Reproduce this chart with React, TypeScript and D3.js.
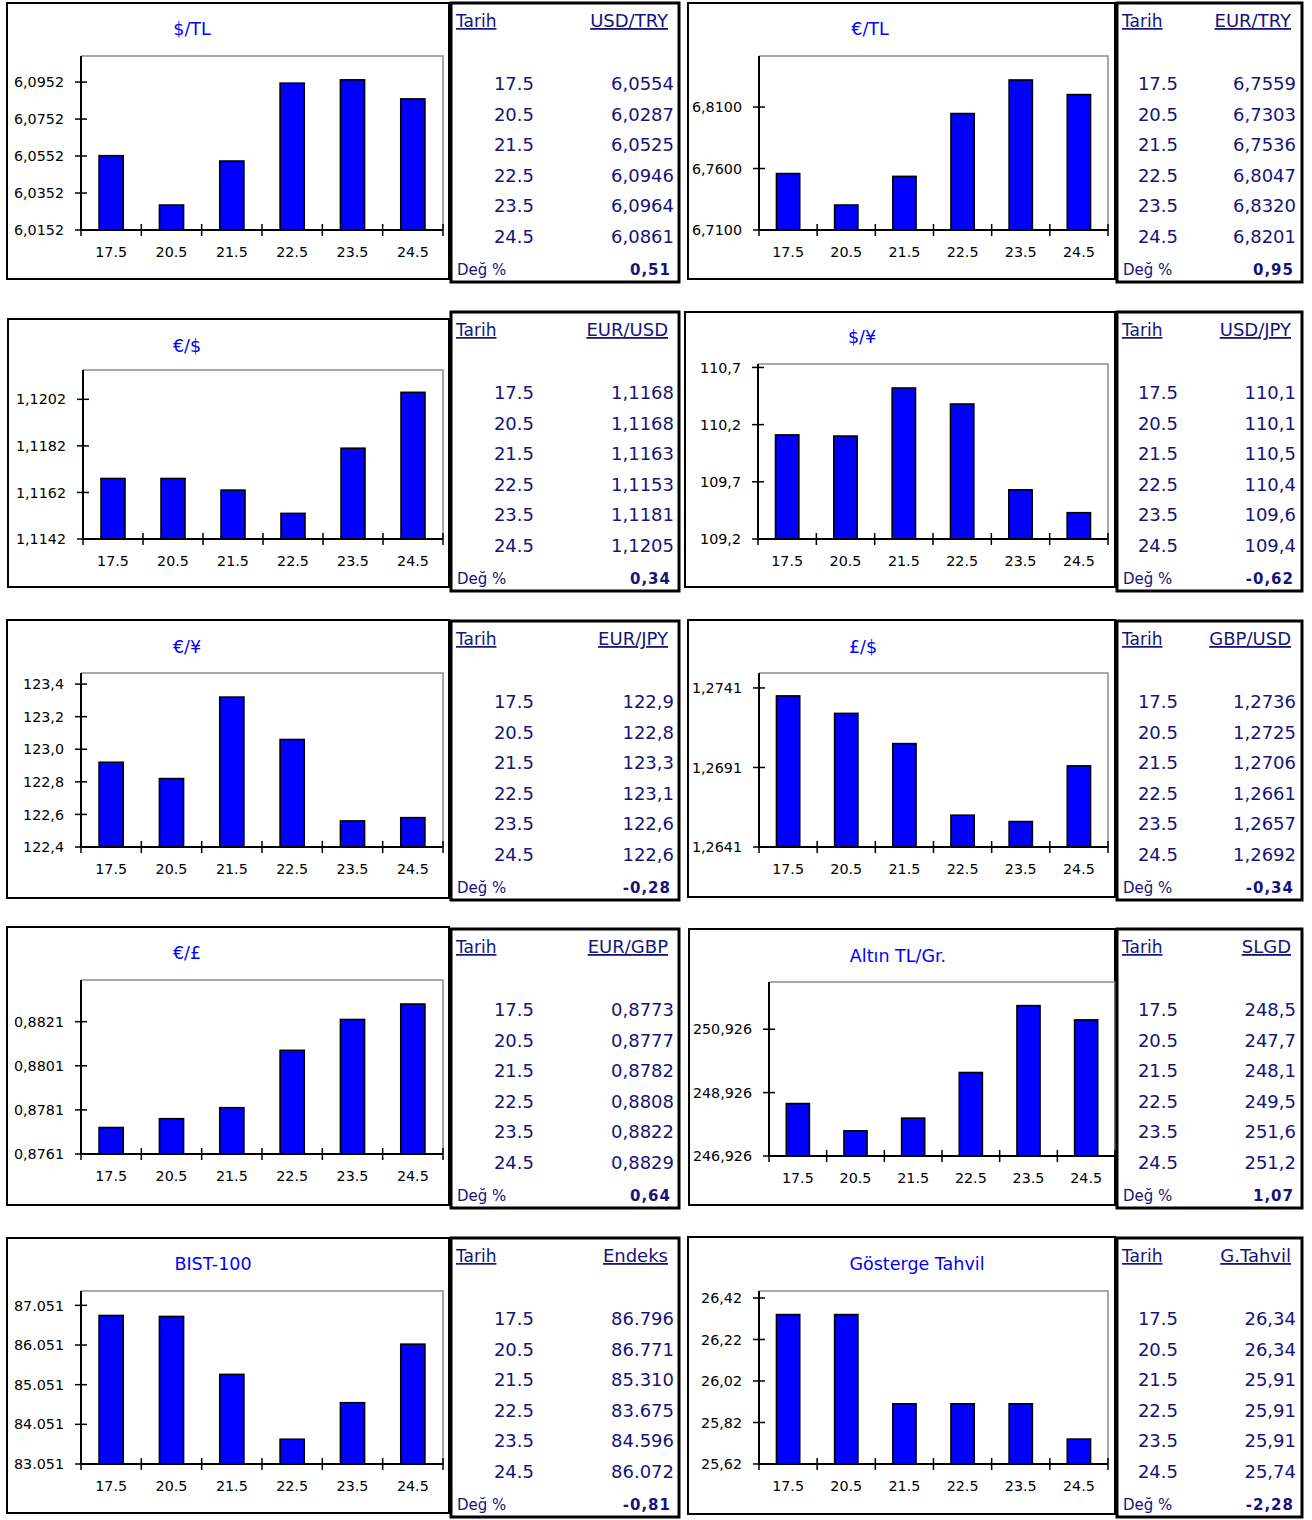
import React from "react";
import * as d3 from "d3";

// ---------- DATA ----------
const dates = ["17.5", "20.5", "21.5", "22.5", "23.5", "24.5"];

const titles = ["$/TL", "€/TL", "€/$", "$/¥", "€/¥", "£/$", "€/£", "Altın TL/Gr.", "BIST-100", "Gösterge Tahvil"];

const usdTlValues = [6.0554, 6.0287, 6.0525, 6.0946, 6.0964, 6.0861];
const usdTlTicks = [6.0152, 6.0352, 6.0552, 6.0752, 6.0952];
const eurTlValues = [6.7559, 6.7303, 6.7536, 6.8047, 6.832, 6.8201];
const eurTlTicks = [6.71, 6.76, 6.81];
const eurUsdValues = [1.1168, 1.1168, 1.1163, 1.1153, 1.1181, 1.1205];
const eurUsdTicks = [1.1142, 1.1162, 1.1182, 1.1202];
const usdJpyValues = [110.11, 110.1, 110.52, 110.38, 109.63, 109.43];
const usdJpyTicks = [109.2, 109.7, 110.2, 110.7];
const eurJpyValues = [122.92, 122.82, 123.32, 123.06, 122.56, 122.58];
const eurJpyTicks = [122.4, 122.6, 122.8, 123.0, 123.2, 123.4];
const gbpUsdValues = [1.2736, 1.2725, 1.2706, 1.2661, 1.2657, 1.2692];
const gbpUsdTicks = [1.2641, 1.2691, 1.2741];
const eurGbpValues = [0.8773, 0.8777, 0.8782, 0.8808, 0.8822, 0.8829];
const eurGbpTicks = [0.8761, 0.8781, 0.8801, 0.8821];
const goldValues = [248.58, 247.72, 248.12, 249.56, 251.67, 251.22];
const goldTicks = [246.926, 248.926, 250.926];
const bistValues = [86796, 86771, 85310, 83675, 84596, 86072];
const bistTicks = [83051, 84051, 85051, 86051, 87051];
const bondValues = [26.34, 26.34, 25.91, 25.91, 25.91, 25.74];
const bondTicks = [25.62, 25.82, 26.02, 26.22, 26.42];

// axis maxima (where the plot area top sits)
const axisMax = [6.1093, 6.8515, 1.12146, 110.73, 123.468, 1.27504, 0.88399, 252.416, 87413, 26.4536];
const tickFormats = [".4f", ".4f", ".4f", ".1f", ".1f", ".4f", ".4f", ".3f", ",.0f", ".2f"];

const tableHeaders = ["USD/TRY", "EUR/TRY", "EUR/USD", "USD/JPY", "EUR/JPY", "GBP/USD", "EUR/GBP", "SLGD", "Endeks", "G.Tahvil"];
const usdTryTable = ["6,0554", "6,0287", "6,0525", "6,0946", "6,0964", "6,0861"];
const eurTryTable = ["6,7559", "6,7303", "6,7536", "6,8047", "6,8320", "6,8201"];
const eurUsdTable = ["1,1168", "1,1168", "1,1163", "1,1153", "1,1181", "1,1205"];
const usdJpyTable = ["110,1", "110,1", "110,5", "110,4", "109,6", "109,4"];
const eurJpyTable = ["122,9", "122,8", "123,3", "123,1", "122,6", "122,6"];
const gbpUsdTable = ["1,2736", "1,2725", "1,2706", "1,2661", "1,2657", "1,2692"];
const eurGbpTable = ["0,8773", "0,8777", "0,8782", "0,8808", "0,8822", "0,8829"];
const slgdTable = ["248,5", "247,7", "248,1", "249,5", "251,6", "251,2"];
const endeksTable = ["86.796", "86.771", "85.310", "83.675", "84.596", "86.072"];
const tahvilTable = ["26,34", "26,34", "25,91", "25,91", "25,91", "25,74"];
const changes = ["0,51", "0,95", "0,34", "-0,62", "-0,28", "-0,34", "0,64", "1,07", "-0,81", "-2,28"];

const chartValues = [usdTlValues, eurTlValues, eurUsdValues, usdJpyValues, eurJpyValues, gbpUsdValues, eurGbpValues, goldValues, bistValues, bondValues];
const chartTicks = [usdTlTicks, eurTlTicks, eurUsdTicks, usdJpyTicks, eurJpyTicks, gbpUsdTicks, eurGbpTicks, goldTicks, bistTicks, bondTicks];
const tableValues = [usdTryTable, eurTryTable, eurUsdTable, usdJpyTable, eurJpyTable, gbpUsdTable, eurGbpTable, slgdTable, endeksTable, tahvilTable];

// ---------- LAYOUT ----------
type Box = [number, number, number, number];
const chartBoxes: Box[] = [
  [7, 3, 449, 279], [688, 3, 1115, 279],
  [8, 319, 449, 587], [685, 312, 1115, 587],
  [7, 620, 449, 898], [688, 620, 1115, 897],
  [7, 927, 449, 1205], [689, 929, 1115, 1205],
  [7, 1238, 449, 1513], [688, 1237, 1115, 1514],
];
const plotBoxes: Box[] = [
  [81, 56, 443, 230], [759, 56, 1108, 230],
  [83, 370, 443, 539], [758, 364, 1108, 539],
  [81, 673, 443, 847], [759, 673, 1108, 847],
  [81, 980, 443, 1154], [769, 982, 1115, 1156],
  [81, 1291, 443, 1464], [759, 1291, 1108, 1464],
];
const titlePos: [number, number][] = [
  [192, 35], [870, 35], [187, 352], [862, 343], [187, 653],
  [863, 653], [187, 959], [898, 962], [213, 1270], [917, 1270],
];
const tableTops = [3, 312, 621, 929, 1238];

const locale = d3.formatLocale({ decimal: ",", thousands: ".", grouping: [3], currency: ["", ""] });

const FONT = "DejaVu Sans, Verdana, sans-serif";
const NAVY = "#14147a";

function BarChart({ i }: { i: number }) {
  const [bx0, by0, bx1, by1] = chartBoxes[i];
  const [px0, py0, px1, py1] = plotBoxes[i];
  const values = chartValues[i];
  const ticks = chartTicks[i];
  const y = d3.scaleLinear().domain([ticks[0], axisMax[i]]).range([py1, py0]);
  const x = d3.scaleBand<string>().domain(dates).range([px0, px1]).paddingInner(0.6).paddingOuter(0.3);
  const step = x.step();
  const fmt = locale.format(tickFormats[i]);
  const bounds = dates.map((d) => (x(d) as number) - step * 0.3).concat([px1]);
  return (
    <g>
      <rect x={bx0} y={by0} width={bx1 - bx0} height={by1 - by0} fill="#fff" stroke="#000" strokeWidth={2} />
      <text x={titlePos[i][0]} y={titlePos[i][1]} textAnchor="middle" fontFamily={FONT} fontSize={17.5} fill="#0000ff">
        {titles[i]}
      </text>
      <polyline points={`${px0},${py0} ${px1},${py0} ${px1},${py1}`} fill="none" stroke="#8c8c8c" strokeWidth={1.5} />
      {values.map((v, k) => (
        <rect
          key={k}
          x={x(dates[k])}
          y={y(v)}
          width={x.bandwidth()}
          height={py1 - y(v)}
          fill="#0000ff"
          stroke="#000"
          strokeWidth={1.6}
        />
      ))}
      <line x1={px0} y1={py0} x2={px0} y2={py1} stroke="#000" strokeWidth={2} />
      <line x1={px0} y1={py1} x2={px1} y2={py1} stroke="#000" strokeWidth={2} />
      {ticks.map((t, k) => (
        <g key={k}>
          <line x1={px0 - 6} x2={px0 + 6} y1={y(t)} y2={y(t)} stroke="#000" strokeWidth={1.5} />
          <text x={px0 - 17} y={y(t)} dy="0.36em" textAnchor="end" fontFamily={FONT} fontSize={14.3} fill="#000">
            {fmt(t)}
          </text>
        </g>
      ))}
      {bounds.map((b, k) => (
        <line key={k} x1={b} x2={b} y1={py1 - 6} y2={py1 + 6} stroke="#000" strokeWidth={1.5} />
      ))}
      {dates.map((d, k) => (
        <text
          key={k}
          x={(x(d) as number) + x.bandwidth() / 2}
          y={py1 + 26.5}
          textAnchor="middle"
          fontFamily={FONT}
          fontSize={14.3}
          fill="#000"
        >
          {d}
        </text>
      ))}
    </g>
  );
}

function DataTable({ i }: { i: number }) {
  const left = i % 2 === 0;
  const tx0 = left ? 451 : 1117;
  const tx1 = left ? 679 : 1302;
  const top = tableTops[Math.floor(i / 2)];
  const off = left
    ? { head: 217, date: 83, val: 223, bold: 220 }
    : { head: 174, date: 61, val: 179, bold: 177 };
  const rowY = d3.scaleLinear().domain([0, 5]).range([top + 87, top + 240]);
  return (
    <g fontFamily={FONT} fill={NAVY}>
      <rect x={tx0} y={top} width={tx1 - tx0} height={279} fill="#fff" stroke="#000" strokeWidth={3} />
      <text x={tx0 + 5} y={top + 24} fontSize={17} style={{ textDecoration: "underline" }}>
        Tarih
      </text>
      <text x={tx0 + off.head} y={top + 24} fontSize={18} textAnchor="end" style={{ textDecoration: "underline" }}>
        {tableHeaders[i]}
      </text>
      {dates.map((d, k) => (
        <g key={k}>
          <text x={tx0 + off.date} y={rowY(k)} fontSize={18} textAnchor="end">
            {d}
          </text>
          <text x={tx0 + off.val} y={rowY(k)} fontSize={18} textAnchor="end">
            {tableValues[i][k]}
          </text>
        </g>
      ))}
      <text x={tx0 + 6} y={top + 272} fontSize={15}>
        Değ %
      </text>
      <text x={tx0 + off.bold} y={top + 272} fontSize={15} fontWeight="bold" textAnchor="end" letterSpacing={1}>
        {changes[i]}
      </text>
    </g>
  );
}

export default function App() {
  const idx = d3.range(10);
  return (
    <svg
      width={1312}
      height={1520}
      viewBox="0 0 1312 1520"
      style={{ position: "absolute", left: 0, top: 0, background: "#fff" }}
    >
      <rect x={0} y={0} width={1312} height={1520} fill="#fff" />
      {idx.map((i) => (
        <BarChart key={`c${i}`} i={i} />
      ))}
      {idx.map((i) => (
        <DataTable key={`t${i}`} i={i} />
      ))}
    </svg>
  );
}
